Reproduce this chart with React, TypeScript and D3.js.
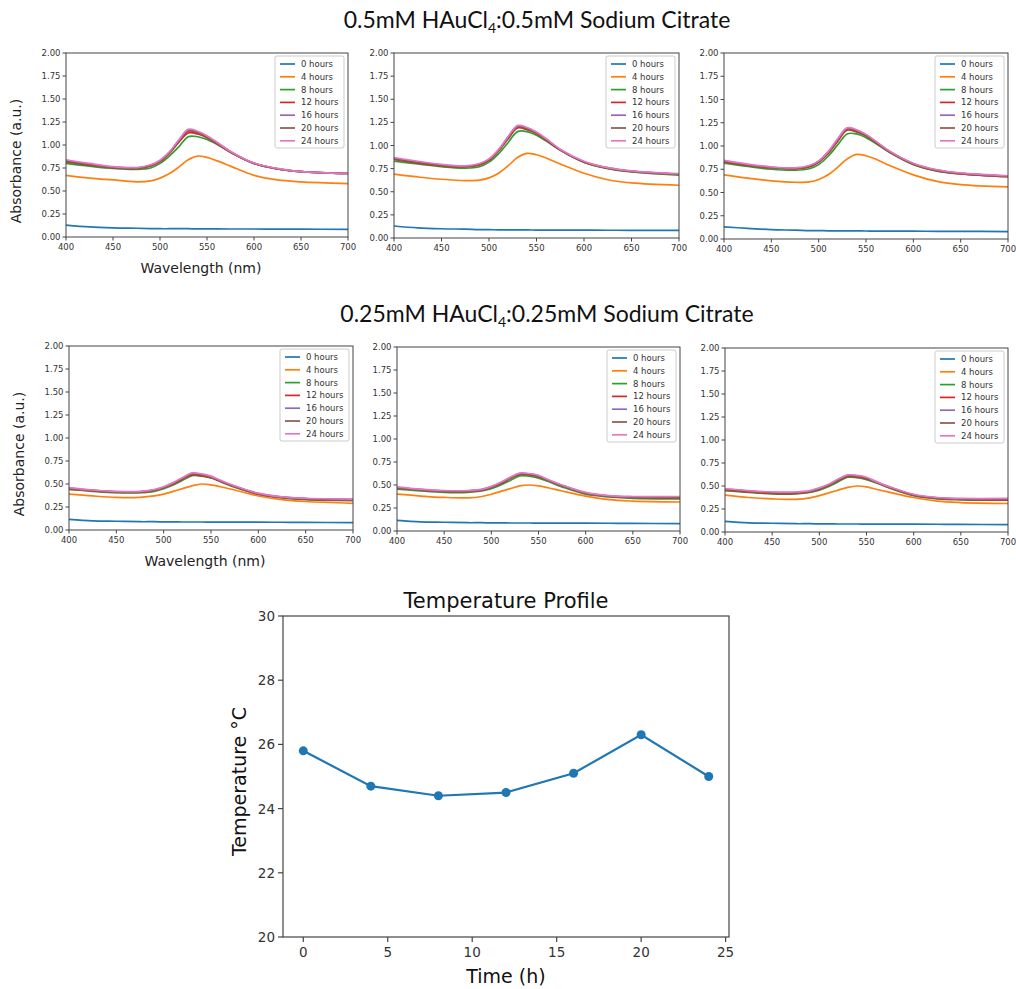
import React from "react";
import * as d3 from "d3";

// Sampled wavelengths (nm) for every absorbance spectrum
const WAVELENGTHS = [400, 425, 450, 475, 490, 500, 510, 520, 530, 540, 550, 560, 575, 600, 625, 650, 700];

const SERIES_LABELS = ["0 hours", "4 hours", "8 hours", "12 hours", "16 hours", "20 hours", "24 hours"];
const SERIES_COLORS = ["#1f77b4", "#ff7f0e", "#2ca02c", "#d62728", "#9467bd", "#8c564b", "#e377c2"];

const X_TICKS = [400, 450, 500, 550, 600, 650, 700];
const Y_TICKS = [0, 0.25, 0.5, 0.75, 1.0, 1.25, 1.5, 1.75, 2.0];

// 0.5 mM HAuCl4 : 0.5 mM sodium citrate, replicate 1
const A_0H = [0.13, 0.11, 0.1, 0.095, 0.092, 0.09, 0.09, 0.09, 0.09, 0.088, 0.088, 0.088, 0.087, 0.087, 0.086, 0.085, 0.083];
const A_4H = [0.67, 0.64, 0.62, 0.6, 0.61, 0.64, 0.69, 0.76, 0.84, 0.88, 0.865, 0.83, 0.77, 0.67, 0.62, 0.6, 0.58];
const A_8H = [0.8, 0.77, 0.745, 0.735, 0.75, 0.8, 0.88, 0.98, 1.09, 1.09, 1.06, 1.01, 0.92, 0.8, 0.74, 0.71, 0.69];
const A_12H = [0.82, 0.78, 0.755, 0.745, 0.77, 0.82, 0.91, 1.03, 1.13, 1.12, 1.08, 1.02, 0.92, 0.8, 0.74, 0.71, 0.69];
const A_16H = [0.83, 0.79, 0.76, 0.75, 0.78, 0.83, 0.92, 1.05, 1.16, 1.14, 1.09, 1.03, 0.93, 0.8, 0.74, 0.71, 0.69];
const A_20H = [0.82, 0.785, 0.76, 0.75, 0.775, 0.825, 0.915, 1.04, 1.15, 1.135, 1.085, 1.025, 0.925, 0.8, 0.74, 0.71, 0.69];
const A_24H = [0.84, 0.8, 0.765, 0.755, 0.785, 0.835, 0.925, 1.055, 1.17, 1.15, 1.1, 1.035, 0.93, 0.805, 0.745, 0.71, 0.69];

// 0.5 mM, replicate 2
const B_0H = [0.13, 0.11, 0.1, 0.095, 0.09, 0.09, 0.088, 0.088, 0.087, 0.087, 0.086, 0.086, 0.085, 0.085, 0.084, 0.083, 0.082];
const B_4H = [0.69, 0.66, 0.635, 0.62, 0.625, 0.65, 0.7, 0.78, 0.87, 0.915, 0.9, 0.865, 0.8, 0.7, 0.63, 0.595, 0.57];
const B_8H = [0.83, 0.8, 0.77, 0.755, 0.77, 0.82, 0.91, 1.03, 1.15, 1.15, 1.11, 1.05, 0.95, 0.82, 0.75, 0.715, 0.68];
const B_12H = [0.85, 0.81, 0.78, 0.77, 0.79, 0.84, 0.94, 1.07, 1.19, 1.17, 1.13, 1.06, 0.95, 0.82, 0.755, 0.72, 0.69];
const B_16H = [0.86, 0.82, 0.79, 0.775, 0.8, 0.85, 0.95, 1.09, 1.21, 1.19, 1.14, 1.07, 0.955, 0.825, 0.76, 0.72, 0.69];
const B_20H = [0.855, 0.815, 0.785, 0.77, 0.795, 0.845, 0.945, 1.08, 1.2, 1.18, 1.135, 1.065, 0.95, 0.82, 0.755, 0.72, 0.69];
const B_24H = [0.87, 0.83, 0.795, 0.78, 0.805, 0.855, 0.955, 1.095, 1.215, 1.195, 1.145, 1.075, 0.96, 0.83, 0.76, 0.725, 0.695];

// 0.5 mM, replicate 3
const C_0H = [0.13, 0.115, 0.1, 0.095, 0.09, 0.09, 0.088, 0.088, 0.087, 0.087, 0.086, 0.085, 0.085, 0.084, 0.083, 0.082, 0.08];
const C_4H = [0.69, 0.655, 0.625, 0.61, 0.615, 0.64, 0.69, 0.77, 0.86, 0.91, 0.895, 0.86, 0.79, 0.69, 0.62, 0.585, 0.56];
const C_8H = [0.815, 0.78, 0.75, 0.74, 0.755, 0.8, 0.89, 1.01, 1.13, 1.13, 1.09, 1.03, 0.93, 0.8, 0.73, 0.7, 0.67];
const C_12H = [0.83, 0.79, 0.765, 0.755, 0.775, 0.825, 0.92, 1.05, 1.17, 1.15, 1.11, 1.04, 0.935, 0.805, 0.735, 0.7, 0.67];
const C_16H = [0.84, 0.8, 0.77, 0.76, 0.785, 0.835, 0.935, 1.07, 1.19, 1.17, 1.12, 1.05, 0.94, 0.81, 0.74, 0.705, 0.675];
const C_20H = [0.835, 0.795, 0.77, 0.76, 0.78, 0.83, 0.93, 1.06, 1.18, 1.16, 1.115, 1.045, 0.94, 0.81, 0.74, 0.705, 0.675];
const C_24H = [0.845, 0.805, 0.775, 0.765, 0.79, 0.84, 0.94, 1.075, 1.195, 1.175, 1.125, 1.055, 0.945, 0.815, 0.745, 0.71, 0.68];

// 0.25 mM HAuCl4 : 0.25 mM sodium citrate, replicate 1
const D_0H = [0.115, 0.1, 0.095, 0.09, 0.09, 0.088, 0.088, 0.087, 0.087, 0.087, 0.086, 0.086, 0.085, 0.085, 0.084, 0.083, 0.08];
const D_4H = [0.39, 0.37, 0.355, 0.355, 0.37, 0.39, 0.42, 0.45, 0.48, 0.5, 0.49, 0.47, 0.435, 0.37, 0.33, 0.31, 0.29];
const D_8H = [0.44, 0.42, 0.405, 0.405, 0.42, 0.45, 0.49, 0.54, 0.59, 0.585, 0.565, 0.525, 0.465, 0.39, 0.35, 0.33, 0.32];
const D_12H = [0.445, 0.425, 0.41, 0.41, 0.43, 0.46, 0.5, 0.555, 0.6, 0.59, 0.57, 0.53, 0.47, 0.39, 0.355, 0.335, 0.325];
const D_16H = [0.455, 0.43, 0.415, 0.415, 0.435, 0.465, 0.51, 0.565, 0.615, 0.605, 0.58, 0.535, 0.475, 0.395, 0.36, 0.34, 0.33];
const D_20H = [0.45, 0.43, 0.415, 0.415, 0.435, 0.465, 0.505, 0.56, 0.61, 0.6, 0.575, 0.535, 0.475, 0.395, 0.355, 0.34, 0.33];
const D_24H = [0.46, 0.435, 0.42, 0.42, 0.44, 0.47, 0.515, 0.57, 0.62, 0.61, 0.585, 0.54, 0.48, 0.4, 0.36, 0.345, 0.335];

// 0.25 mM, replicate 2
const E_0H = [0.115, 0.1, 0.095, 0.09, 0.09, 0.088, 0.088, 0.087, 0.087, 0.087, 0.086, 0.086, 0.085, 0.085, 0.084, 0.083, 0.08];
const E_4H = [0.4, 0.38, 0.365, 0.36, 0.375, 0.4, 0.43, 0.46, 0.49, 0.5, 0.49, 0.47, 0.435, 0.38, 0.34, 0.325, 0.315];
const E_8H = [0.455, 0.435, 0.42, 0.42, 0.435, 0.46, 0.5, 0.55, 0.6, 0.595, 0.575, 0.54, 0.48, 0.4, 0.37, 0.355, 0.35];
const E_12H = [0.465, 0.445, 0.43, 0.43, 0.445, 0.475, 0.515, 0.57, 0.615, 0.61, 0.59, 0.55, 0.49, 0.41, 0.375, 0.365, 0.36];
const E_16H = [0.475, 0.45, 0.435, 0.435, 0.45, 0.48, 0.525, 0.58, 0.625, 0.62, 0.6, 0.555, 0.495, 0.415, 0.38, 0.37, 0.37];
const E_20H = [0.47, 0.45, 0.435, 0.435, 0.45, 0.48, 0.52, 0.575, 0.62, 0.615, 0.595, 0.555, 0.495, 0.415, 0.38, 0.37, 0.365];
const E_24H = [0.48, 0.455, 0.44, 0.44, 0.455, 0.485, 0.53, 0.585, 0.63, 0.625, 0.605, 0.56, 0.5, 0.42, 0.385, 0.375, 0.375];

// 0.25 mM, replicate 3
const F_0H = [0.115, 0.1, 0.095, 0.09, 0.09, 0.088, 0.088, 0.087, 0.087, 0.087, 0.086, 0.086, 0.085, 0.085, 0.084, 0.083, 0.08];
const F_4H = [0.4, 0.375, 0.36, 0.355, 0.37, 0.395, 0.425, 0.455, 0.485, 0.5, 0.49, 0.465, 0.43, 0.375, 0.335, 0.32, 0.31];
const F_8H = [0.45, 0.43, 0.415, 0.415, 0.43, 0.455, 0.495, 0.545, 0.595, 0.59, 0.57, 0.535, 0.475, 0.395, 0.36, 0.35, 0.345];
const F_12H = [0.455, 0.435, 0.42, 0.42, 0.435, 0.465, 0.505, 0.56, 0.605, 0.6, 0.58, 0.54, 0.48, 0.4, 0.365, 0.355, 0.35];
const F_16H = [0.465, 0.445, 0.43, 0.43, 0.445, 0.475, 0.515, 0.57, 0.615, 0.61, 0.59, 0.545, 0.485, 0.405, 0.37, 0.36, 0.36];
const F_20H = [0.46, 0.44, 0.425, 0.425, 0.44, 0.47, 0.51, 0.565, 0.61, 0.605, 0.585, 0.545, 0.485, 0.405, 0.37, 0.36, 0.355];
const F_24H = [0.47, 0.45, 0.435, 0.435, 0.45, 0.48, 0.52, 0.575, 0.62, 0.615, 0.595, 0.55, 0.49, 0.41, 0.375, 0.365, 0.365];

// Temperature log
const TEMP_HOURS = [0, 4, 8, 12, 16, 20, 24];
const TEMP_VALUES = [25.8, 24.7, 24.4, 24.5, 25.1, 26.3, 25.0];
const TEMP_X_TICKS = [0, 5, 10, 15, 20, 25];
const TEMP_Y_TICKS = [20, 22, 24, 26, 28, 30];

const PANELS = [
  { box: [66, 53, 348, 237], series: [A_0H, A_4H, A_8H, A_12H, A_16H, A_20H, A_24H], first: true },
  { box: [394, 53, 679, 238], series: [B_0H, B_4H, B_8H, B_12H, B_16H, B_20H, B_24H], first: false },
  { box: [724, 53, 1008, 239], series: [C_0H, C_4H, C_8H, C_12H, C_16H, C_20H, C_24H], first: false },
  { box: [69, 346, 353, 530], series: [D_0H, D_4H, D_8H, D_12H, D_16H, D_20H, D_24H], first: true },
  { box: [397, 347, 680, 531], series: [E_0H, E_4H, E_8H, E_12H, E_16H, E_20H, E_24H], first: false },
  { box: [725, 348, 1008, 532], series: [F_0H, F_4H, F_8H, F_12H, F_16H, F_20H, F_24H], first: false },
];

const AXIS_COLOR = "#444";
const TICK_TEXT = "#333";
const MPL_FONT = "'DejaVu Sans', sans-serif";

function SpectrumPanel({ box, series, first }) {
  const [x0, y0, x1, y1] = box;
  const x = d3.scaleLinear().domain([400, 700]).range([x0, x1]);
  const y = d3.scaleLinear().domain([0, 2]).range([y1, y0]);
  const line = d3
    .line<number>()
    .x((_, i) => x(WAVELENGTHS[i]))
    .y((v) => y(v))
    .curve(d3.curveCatmullRom.alpha(0.5));

  const legW = 69;
  const legH = 92;
  const legX = x1 - 4 - legW;
  const legY = y0 + 3;

  return (
    <g>
      {series.map((s, i) => (
        <path key={i} d={line(s) || ""} fill="none" stroke={SERIES_COLORS[i]} strokeWidth={1.7} />
      ))}
      <rect x={x0} y={y0} width={x1 - x0} height={y1 - y0} fill="none" stroke={AXIS_COLOR} strokeWidth={1} />
      {X_TICKS.map((t) => (
        <g key={t}>
          <line x1={x(t)} x2={x(t)} y1={y1} y2={y1 + 3.5} stroke={AXIS_COLOR} />
          <text x={x(t)} y={y1 + 13} textAnchor="middle" fontSize={8.5} fontFamily={MPL_FONT} fill={TICK_TEXT}>
            {t}
          </text>
        </g>
      ))}
      {Y_TICKS.map((t) => (
        <g key={t}>
          <line x1={x0 - 3.5} x2={x0} y1={y(t)} y2={y(t)} stroke={AXIS_COLOR} />
          <text x={x0 - 5.5} y={y(t) + 3} textAnchor="end" fontSize={8.5} fontFamily={MPL_FONT} fill={TICK_TEXT}>
            {t.toFixed(2)}
          </text>
        </g>
      ))}
      <rect x={legX} y={legY} width={legW} height={legH} rx={2} fill="#fff" fillOpacity={0.85} stroke="#ccc" strokeWidth={1} />
      {SERIES_LABELS.map((lab, i) => {
        const ly = legY + 8 + i * 12.8;
        return (
          <g key={lab}>
            <line x1={legX + 5} x2={legX + 20} y1={ly} y2={ly} stroke={SERIES_COLORS[i]} strokeWidth={1.7} />
            <text x={legX + 26} y={ly + 3} fontSize={8.5} fontFamily={MPL_FONT} fill={TICK_TEXT}>
              {lab}
            </text>
          </g>
        );
      })}
      {first && (
        <>
          <text
            transform={`translate(${x0 - 45},${(y0 + y1) / 2 + 16}) rotate(-90)`}
            textAnchor="middle"
            fontSize={14}
            fontFamily={MPL_FONT}
            fill="#222"
          >
            Absorbance (a.u.)
          </text>
          <text x={(x0 + x1) / 2 - 6} y={y1 + 36} textAnchor="middle" fontSize={14} fontFamily={MPL_FONT} fill="#222">
            Wavelength (nm)
          </text>
        </>
      )}
    </g>
  );
}

function RowTitle({ cx, y, conc }) {
  return (
    <text x={cx} y={y} textAnchor="middle" fontSize={23} fontFamily="Lato, 'Open Sans', sans-serif" fill="#111">
      {conc}mM HAuCl
      <tspan dy={5} fontSize={14}>4</tspan>
      <tspan dy={-5}>:{conc}mM Sodium Citrate</tspan>
    </text>
  );
}

function TemperatureChart() {
  const [x0, y0, x1, y1] = [283, 616, 729, 937];
  const x = d3.scaleLinear().domain([-1.2, 25.2]).range([x0, x1]);
  const y = d3.scaleLinear().domain([20, 30]).range([y1, y0]);
  const line = d3
    .line<number>()
    .x((_, i) => x(TEMP_HOURS[i]))
    .y((v) => y(v));
  return (
    <g>
      <path d={line(TEMP_VALUES) || ""} fill="none" stroke="#1f77b4" strokeWidth={2.2} />
      {TEMP_VALUES.map((v, i) => (
        <circle key={i} cx={x(TEMP_HOURS[i])} cy={y(v)} r={4.5} fill="#1f77b4" />
      ))}
      <rect x={x0} y={y0} width={x1 - x0} height={y1 - y0} fill="none" stroke={AXIS_COLOR} strokeWidth={1.2} />
      {TEMP_X_TICKS.map((t) => (
        <g key={t}>
          <line x1={x(t)} x2={x(t)} y1={y1} y2={y1 + 5} stroke={AXIS_COLOR} strokeWidth={1.2} />
          <text x={x(t)} y={y1 + 20} textAnchor="middle" fontSize={13.5} fontFamily={MPL_FONT} fill={TICK_TEXT}>
            {t}
          </text>
        </g>
      ))}
      {TEMP_Y_TICKS.map((t) => (
        <g key={t}>
          <line x1={x0 - 5} x2={x0} y1={y(t)} y2={y(t)} stroke={AXIS_COLOR} strokeWidth={1.2} />
          <text x={x0 - 8} y={y(t) + 5} textAnchor="end" fontSize={13.5} fontFamily={MPL_FONT} fill={TICK_TEXT}>
            {t}
          </text>
        </g>
      ))}
      <text x={(x0 + x1) / 2} y={y0 - 8} textAnchor="middle" fontSize={21} fontFamily={MPL_FONT} fill="#111">
        Temperature Profile
      </text>
      <text x={(x0 + x1) / 2} y={y1 + 46} textAnchor="middle" fontSize={19} fontFamily={MPL_FONT} fill="#111">
        Time (h)
      </text>
      <text
        transform={`translate(${x0 - 37},${(y0 + y1) / 2 + 5}) rotate(-90)`}
        textAnchor="middle"
        fontSize={19}
        fontFamily={MPL_FONT}
        fill="#111"
      >
        Temperature °C
      </text>
    </g>
  );
}

export default function App() {
  return (
    <svg
      width={1016}
      height={989}
      viewBox="0 0 1016 989"
      style={{ position: "absolute", left: 0, top: 0, background: "#fff" }}
    >
      <rect width={1016} height={989} fill="#fff" />
      <RowTitle cx={537} y={28} conc="0.5" />
      <RowTitle cx={547} y={322} conc="0.25" />
      {PANELS.map((p, i) => (
        <SpectrumPanel key={i} box={p.box} series={p.series} first={p.first} />
      ))}
      <TemperatureChart />
    </svg>
  );
}
